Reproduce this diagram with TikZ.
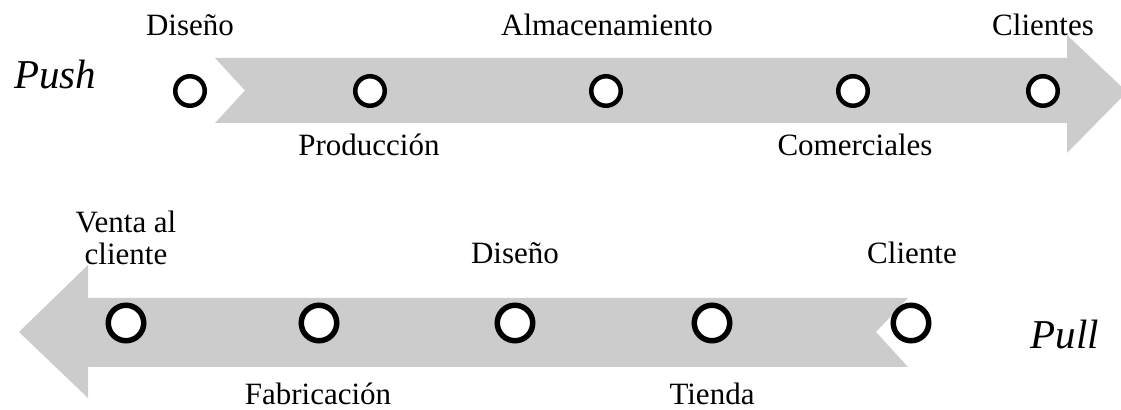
\documentclass[tikz,border=0pt]{standalone}
\usepackage{fontspec}
\setmainfont{Liberation Serif}
\usetikzlibrary{positioning}
\definecolor{flowgray}{RGB}{204,204,204}
\tikzset{
    stage/.style = {circle,draw,fill=white,line width=2.25pt,inner sep=0pt,minimum size=14.75pt},
    bigstage/.style = {stage,line width=2.75pt,minimum size=17.75pt},
    tag/.style = {font=\fontsize{15.5}{16}\selectfont,inner sep=0pt,anchor=base},
    mode/.style = {font=\fontsize{20.5}{22}\selectfont\itshape,inner sep=0pt,anchor=base},
    band/.style = {fill=flowgray,draw=none}}

\begin{document}
\begin{tikzpicture}[x=0.5pt,y=-0.5pt]
        \useasboundingbox (0,0) rectangle (1121,410);
        % push
        \fill[band] (215,58) -- (1067,58) -- (1067,35) -- (1127,92) -- (1067,153)
            -- (1067,123) -- (215,123) -- (245,90.5) -- cycle;
        \path (190,91) node[stage] (push1) {}
        (370,91) node[stage] (push2) {}
        (606,91) node[stage] (push3) {}
        (853,91) node[stage] (push4) {}
        (1043,91) node[stage] (push5) {};
        \path (55,89) node[mode] (pushname) {Push}
        (190,36) node[tag] (design1) {Diseño}
        (607,36) node[tag] (storage) {Almacenamiento}
        (1043,36) node[tag] (clients) {Clientes}
        (369,156) node[tag] (production) {Producción}
        (855,156) node[tag] (sales) {Comerciales};
        % pull
        \fill[band] (908,298) -- (88,298) -- (88,265) -- (19,332) -- (88,398)
            -- (88,367) -- (908,367) -- (876,332) -- cycle;
        \path (126,323) node[bigstage] (pull1) {}
        (319,323) node[bigstage] (pull2) {}
        (515,323) node[bigstage] (pull3) {}
        (712,323) node[bigstage] (pull4) {}
        (911,323) node[bigstage] (pull5) {};
        \path (1065,349) node[mode] (pullname) {Pull}
        (126,211) node[tag,anchor=north,align=center] (sale) {Venta al\\cliente}
        (515,264) node[tag] (design2) {Diseño}
        (912,264) node[tag] (client) {Cliente}
        (318,405) node[tag] (making) {Fabricación}
        (712,405) node[tag] (shop) {Tienda};
\end{tikzpicture}
\end{document}
